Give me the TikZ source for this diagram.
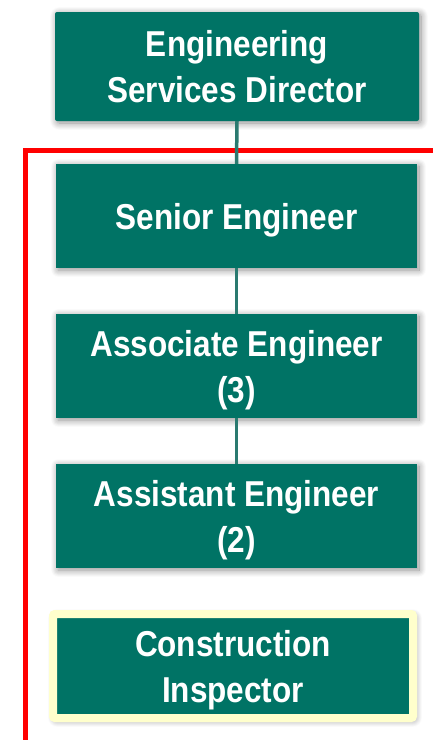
\documentclass[tikz,border=0pt]{standalone}
\usepackage{fontspec}
\newfontfamily\boxfont{Liberation Sans}[FakeStretch=0.875]
\usetikzlibrary{shadows.blur}
\definecolor{teal1}{HTML}{007365}
\definecolor{link}{HTML}{2A7A70}
\definecolor{cream}{HTML}{FFFFCC}
\tikzset{
  box/.style={rectangle, fill=teal1, text=white, align=center, inner sep=0pt, text depth=0pt,
    font=\boxfont\bfseries\fontsize{36}{46}\selectfont,
    blur shadow={shadow xshift=2pt, shadow yshift=-2pt, shadow blur steps=10, shadow blur radius=7pt, shadow opacity=45}},
  link/.style={draw=link, line width=3.5pt},
  redline/.style={draw=red, line width=5pt}
}
\begin{document}
\begin{tikzpicture}[x=1pt,y=-1pt]
\useasboundingbox (0,0) rectangle (433,740);
\coordinate (r1) at (433,150);
\coordinate (r2) at (25,150);
\coordinate (r3) at (25,740);
\draw[redline] (r1) -- (r2) -- (r3);
\node[box, minimum width=364pt, minimum height=109pt, rounded corners=2pt] (dir) at (237,66.5) {Engineering\\Services Director};
\node[box, minimum width=361pt, minimum height=104pt] (sen) at (236.5,216) {Senior Engineer};
\node[box, minimum width=361pt, minimum height=104pt] (asc) at (236.5,366) {Associate Engineer\\(3)};
\node[box, minimum width=361pt, minimum height=104pt] (ast) at (236.5,516) {Assistant Engineer\\(2)};
\node[box, draw=cream, line width=8pt, rounded corners=2pt, minimum width=360pt, minimum height=104pt] (ci) at (233,666) {Construction\\Inspector};
\draw[link] (dir.south) -- (sen.north);
\draw[link] (sen.south) -- (asc.north);
\draw[link] (asc.south) -- (ast.north);
\end{tikzpicture}
\end{document}
